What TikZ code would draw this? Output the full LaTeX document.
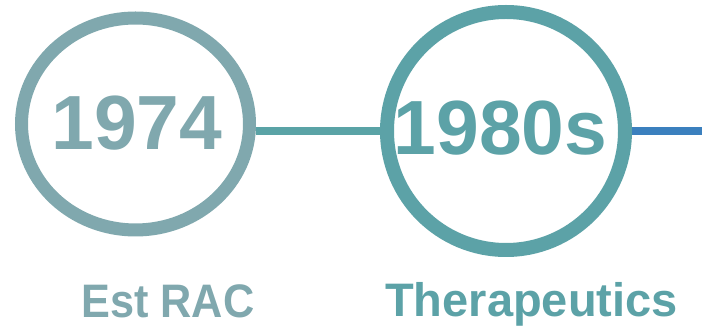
\documentclass[tikz,border=0pt]{standalone}
\usepackage{fontspec}
\setmainfont{Liberation Sans}
\usetikzlibrary{shapes.geometric,backgrounds}
\definecolor{greyteal}{HTML}{80A8AE}
\definecolor{teal2}{HTML}{5CA2A7}
\definecolor{line1col}{HTML}{5AA3A6}
\definecolor{line2col}{HTML}{3B80BE}
\begin{document}
\begin{tikzpicture}[x=1pt,y=-1pt,
  ringone/.style={ellipse,draw=greyteal,line width=13pt,minimum width=228pt,minimum height=212pt,inner sep=0pt},
  ringtwo/.style={circle,draw=teal2,line width=14pt,minimum size=238pt,inner sep=0pt},
  yeartext/.style={font=\bfseries\fontsize{76.8}{80}\selectfont,inner sep=0pt,anchor=base},
  labeltext/.style={font=\bfseries\fontsize{47}{50}\selectfont,inner sep=0pt,anchor=base},
  conn/.style={line width=8.5pt}]
\useasboundingbox (0,0) rectangle (702,336);
\node[ringone] (c1) at (135.5,124) {};
\node[ringtwo] (c2) at (506,131) {};
\node[yeartext,text=greyteal] (y1) at (137,150) {1974};
\node[yeartext,text=teal2] (y2) at (500.5,155) {1980s};
\node[labeltext,text=greyteal] (l1) at (168,318) {\scalebox{0.92}[1]{Est RAC}};
\node[labeltext,text=teal2] (l2) at (531.5,317) {Therapeutics};
\coordinate (endR) at (702,131);
\begin{scope}[on background layer]
\fill[white] (0,0) rectangle (702,336);
\draw[conn,line1col] (c1.east |- c2.west) -- (c2.west);
\draw[conn,line2col] (c2.east) -- (endR);
\end{scope}
\end{tikzpicture}
\end{document}
